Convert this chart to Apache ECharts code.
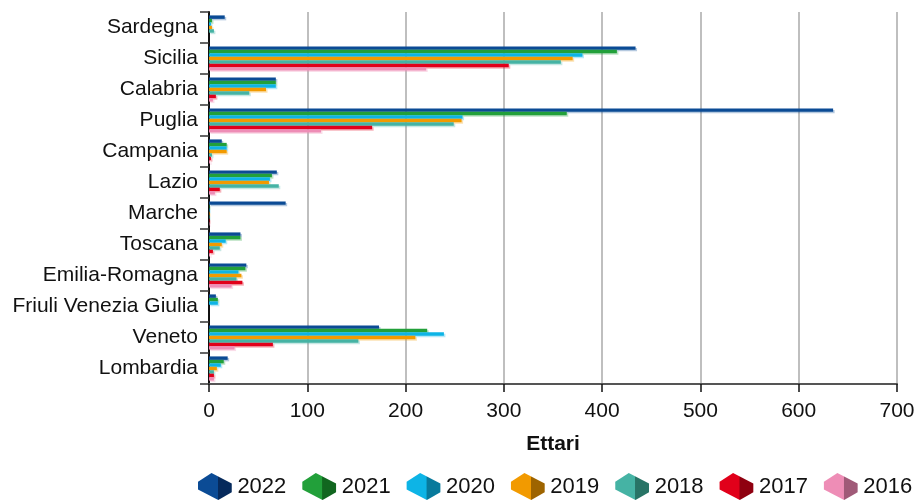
<!DOCTYPE html>
<html>
<head>
<meta charset="utf-8">
<style>
    html, body { margin: 0; padding: 0; background: #ffffff; }
</style>
<script src="https://cdn.jsdelivr.net/npm/echarts@6/dist/echarts.min.js"></script>
</head>
<body>
<div id="main" style="width: 921px;height:500px;"></div>
<script>
    // regioni dal basso verso l'alto (asse categorie)
    var regioni = ['Lombardia', 'Veneto', 'Friuli Venezia Giulia', 'Emilia-Romagna', 'Toscana',
        'Marche', 'Lazio', 'Campania', 'Puglia', 'Calabria', 'Sicilia', 'Sardegna'];

    var anni = ['2022', '2021', '2020', '2019', '2018', '2017', '2016'];

    var v2022 = [19, 173, 7, 38, 32, 78, 69, 13, 635, 68, 434, 16];
    var v2021 = [15, 222, 9, 37, 32, 0.5, 64, 18, 364, 68, 415, 3];
    var v2020 = [12, 239, 9, 30, 17, 0.5, 62, 18, 258, 68, 380, 2];
    var v2019 = [8, 210, 0, 33, 13, 0.5, 61, 18, 257, 58, 370, 3];
    var v2018 = [5, 152, 0, 28, 11, 0.5, 71, 3, 249, 41, 358, 5];
    var v2017 = [5, 65, 0, 34, 4, 0.5, 11, 2, 166, 7, 305, 0];
    var v2016 = [5, 26, 0, 23, 1, 0.5, 6, 1, 114, 4, 221, 0];

    var valori = [v2022, v2021, v2020, v2019, v2018, v2017, v2016];
    var colori = ['#0b4b95', '#22a03a', '#0db4e6', '#f29a00', '#45b3a4', '#e1001a', '#ee8db6'];
    var coloriScuri = ['#062a5c', '#11661f', '#087a9c', '#9e6400', '#287466', '#8f0010', '#a05a78'];

    var xTicks = [0, 100, 200, 300, 400, 500, 600, 700];

    var font = '"Liberation Sans", Arial, sans-serif';

    // icona "cubo" per la legenda
    var cubo = 'path://M0,9 L14,0 L35,11 L35,20 L21,28 L0,17 Z';

    var legendData = anni.map(function (a, i) {
        return {
            name: a,
            itemStyle: {
                color: new echarts.graphic.LinearGradient(0, 0, 1, 0, [
                    {offset: 0, color: colori[i]},
                    {offset: 0.58, color: colori[i]},
                    {offset: 0.6, color: coloriScuri[i]},
                    {offset: 1, color: coloriScuri[i]}
                ])
            }
        };
    });

    // la prima serie sta in cima alla banda: 2022 per primo
    var series = anni.map(function (a, i) {
        return {
            name: a,
            type: 'bar',
            data: valori[i],
            barGap: '0%',
            barCategoryGap: '22%',
            itemStyle: {
                color: colori[i],
                shadowColor: echarts.color.modifyAlpha(colori[i], 0.3),
                shadowOffsetX: 1.5,
                shadowOffsetY: 1.5,
                shadowBlur: 0
            }
        };
    });

    var myChart = echarts.init(document.getElementById('main'));

    var option = {
        backgroundColor: '#FFFFFF',
        animation: false,
        textStyle: {fontFamily: font},
        grid: {
            left: 209,
            right: 24,
            top: 12,
            bottom: 116,
            containLabel: false,
            outerBoundsMode: 'none'
        },
        legend: {
            data: legendData,
            left: 193,
            top: 468,
            width: 728,
            icon: cubo,
            itemWidth: 35,
            itemHeight: 27,
            itemGap: 16,
            textStyle: {
                fontFamily: font,
                fontSize: 22,
                color: '#111111'
            }
        },
        xAxis: {
            type: 'value',
            min: 0,
            max: 700,
            interval: 100,
            name: 'Ettari',
            nameLocation: 'middle',
            nameGap: 50,
            nameTextStyle: {fontFamily: font, fontSize: 21, fontWeight: 'bold', color: '#111111'},
            axisLine: {show: true, lineStyle: {color: '#555555', width: 2}},
            axisTick: {show: true, length: 8, lineStyle: {color: '#111111', width: 1.5}},
            axisLabel: {
                fontSize: 21,
                color: '#111111',
                margin: 17,
                formatter: function (v) {
                    return xTicks.indexOf(v) >= 0 ? String(v) : '';
                }
            },
            splitLine: {show: true, lineStyle: {color: '#aaaaaa', width: 1.5}}
        },
        yAxis: {
            type: 'category',
            data: regioni,
            axisLine: {show: true, lineStyle: {color: '#111111', width: 2}},
            axisTick: {show: true, length: 9, lineStyle: {color: '#333333', width: 1.5}},
            axisLabel: {fontSize: 21, color: '#111111', margin: 11, interval: 0},
            splitLine: {show: false}
        },
        series: series
    };

    myChart.setOption(option);
</script>
</body>
</html>
